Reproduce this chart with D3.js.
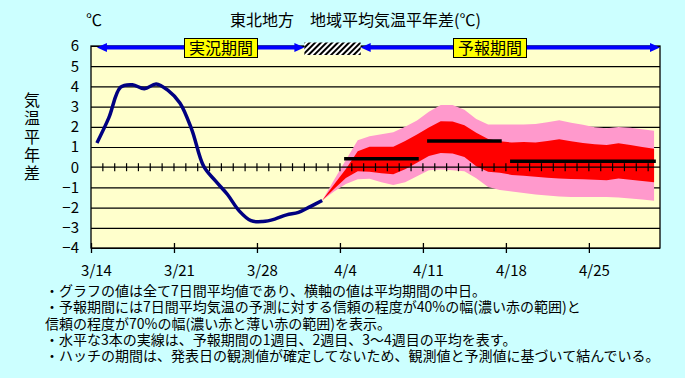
<!DOCTYPE html>
<html>
<head>
<meta charset="utf-8">
<script src="https://cdn.jsdelivr.net/npm/d3@7"></script>
<style>
  body { margin: 0; background: #ccffff; }
  svg text { font-family: "Noto Sans CJK JP", "Noto Sans", sans-serif; fill: #000; }
</style>
</head>
<body>
<svg id="chart"></svg>
<script>
// observed 7-day mean anomalies (one per day, plotted at mid-day)
const obsStart = "2024-03-14"
const obsValues = [1.2, 2.44, 3.96, 4.08, 3.88, 4.12, 3.8, 3.18, 1.86, 0.05,
    -0.68, -1.34, -2.16, -2.65, -2.69, -2.57, -2.36, -2.24, -1.95, -1.65]

// forecast ranges (70% = outer pink, 40% = inner red), one per day from 4/2
const fcStart = "2024-04-02"
const fcUpper70 = [-1.65, -0.63, 0.36, 1.33, 1.53, 1.63, 1.73, 2.0, 2.31, 2.75,
    3.08, 3.08, 2.85, 2.38, 2.12, 2.12, 2.12, 2.12, 2.14, 2.22,
    2.32, 2.2, 2.1, 1.98, 1.93, 1.99, 1.95, 1.88, 1.81]
const fcUpper40 = [-1.65, -0.86, -0.09, 0.79, 1.01, 1.01, 1.01, 1.3, 1.62, 1.97,
    2.27, 2.26, 2.08, 1.7, 1.4, 1.28, 1.22, 1.25, 1.22, 1.3,
    1.38, 1.28, 1.2, 1.14, 1.1, 1.18, 1.1, 1.0, 0.91]
const fcLower40 = [-1.65, -1.08, -0.53, -0.2, -0.22, -0.3, -0.35, -0.1, 0.22, 0.55,
    0.7, 0.68, 0.5, 0.05, -0.22, -0.28, -0.38, -0.42, -0.47, -0.52,
    -0.56, -0.58, -0.6, -0.62, -0.64, -0.56, -0.62, -0.68, -0.75]
const fcLower70 = [-1.65, -1.2, -0.83, -0.6, -0.57, -0.75, -0.88, -0.75, -0.45, -0.15,
    -0.12, -0.15, -0.2, -0.55, -0.98, -1.13, -1.2, -1.28, -1.35, -1.4,
    -1.45, -1.47, -1.47, -1.47, -1.47, -1.5, -1.55, -1.6, -1.66]

// weekly means: week 1, week 2, weeks 3-4
const weekFrom = ["2024-04-04", "2024-04-11", "2024-04-18"]
const weekTo = ["2024-04-10", "2024-04-17", "2024-04-30"]
const weekMean = [0.42, 1.3, 0.3]

const xTickDates = ["2024-03-14", "2024-03-21", "2024-03-28", "2024-04-04", "2024-04-11", "2024-04-18", "2024-04-25"]
const xTickLabels = ["3/14", "3/21", "3/28", "4/4", "4/11", "4/18", "4/25"]
const yTicks = [6, 5, 4, 3, 2, 1, 0, -1, -2, -3, -4]

// top banner: observed period, hatched gap, forecast period
const periodEdges = ["2024-03-14T12:00Z", "2024-04-01T00:00Z", "2024-04-05T18:00Z", "2024-05-01T00:00Z"]
const periodLabels = ["実況期間", "予報期間"]

const titleText = "東北地方　地域平均気温平年差(℃)"
const yTitle = "気温平年差"
const notes = [
    "・グラフの値は全て7日間平均値であり、横軸の値は平均期間の中日。",
    "・予報期間には7日間平均気温の予測に対する信頼の程度が40%の幅(濃い赤の範囲)と",
    "信頼の程度が70%の幅(濃い赤と薄い赤の範囲)を表示。",
    "・水平な3本の実線は、予報期間の1週目、2週目、3～4週目の平均を表す。",
    "・ハッチの期間は、発表日の観測値が確定してないため、観測値と予測値に基づいて結んでいる。"
]

const W = 685, H = 378
const plot = {left: 91, right: 660, top: 46, bottom: 248}

const parse = s => new Date(s.length === 10 ? s + "T00:00Z" : s)
const noon = (start, i) => d3.utcHour.offset(d3.utcDay.offset(parse(start), i), 12)

const svg = d3.select("#chart").attr("width", W).attr("height", H)

const x = d3.scaleUtc()
    .domain([parse("2024-03-14"), parse("2024-05-01")])
    .range([plot.left, plot.right])
const y = d3.scaleLinear()
    .domain([-4, 6])
    .range([plot.bottom, plot.top])

const defs = svg.append("defs")
const hatch = defs.append("pattern")
    .attr("id", "hatch")
    .attr("patternUnits", "userSpaceOnUse")
    .attr("width", 4).attr("height", 4)
    .attr("patternTransform", "rotate(45)")
hatch.append("rect").attr("width", 4).attr("height", 4).attr("fill", "#fff")
hatch.append("rect").attr("width", 2).attr("height", 4).attr("fill", "#000")

// plot background
svg.append("rect")
    .attr("x", plot.left).attr("y", plot.top)
    .attr("width", plot.right - plot.left).attr("height", plot.bottom - plot.top)
    .attr("fill", "#ffffcc")

// gridlines + y labels
const yAxisG = svg.append("g")
    .attr("transform", `translate(${plot.left},0)`)
    .call(d3.axisLeft(y).tickValues(yTicks).tickSize(-(plot.right - plot.left)).tickPadding(12)
        .tickFormat(d => d < 0 ? "\u2212" + Math.abs(d) : d))
yAxisG.select(".domain").remove()
yAxisG.selectAll(".tick line").attr("stroke", "#000").attr("stroke-width", 1.2)
    .filter(d => d === 0).remove()
yAxisG.selectAll(".tick text").attr("font-size", 15).attr("fill", "#000")

// forecast bands
const fcData = fcUpper70.map((d, i) => ({
    date: noon(fcStart, i), u70: d, u40: fcUpper40[i], l40: fcLower40[i], l70: fcLower70[i]
}))
svg.append("path")
    .datum(fcData)
    .attr("fill", "#ff99cc")
    .attr("d", d3.area().x(d => x(d.date)).y0(d => y(d.l70)).y1(d => y(d.u70)))
svg.append("path")
    .datum(fcData)
    .attr("fill", "#ff0000")
    .attr("d", d3.area().x(d => x(d.date)).y0(d => y(d.l40)).y1(d => y(d.u40)))

// zero line with daily ticks
svg.append("line")
    .attr("x1", plot.left).attr("x2", plot.right)
    .attr("y1", y(0)).attr("y2", y(0))
    .attr("stroke", "#000").attr("stroke-width", 1.2)
svg.append("g")
    .selectAll("line")
    .data(d3.utcDay.range(parse("2024-03-15"), parse("2024-05-01")))
    .join("line")
        .attr("x1", d => x(d)).attr("x2", d => x(d))
        .attr("y1", y(0) - 4).attr("y2", y(0) + 4)
        .attr("stroke", "#000").attr("stroke-width", 1.2)

// weekly means
svg.append("g")
    .selectAll("line")
    .data(weekMean)
    .join("line")
        .attr("x1", (d, i) => x(noon(weekFrom[i], 0)))
        .attr("x2", (d, i) => x(noon(weekTo[i], 0)))
        .attr("y1", d => y(d)).attr("y2", d => y(d))
        .attr("stroke", "#000").attr("stroke-width", 3.5)
        .attr("stroke-linecap", "square")

// observed line
const obsData = obsValues.map((v, i) => ({date: noon(obsStart, i), v: v}))
svg.append("path")
    .datum(obsData)
    .attr("fill", "none")
    .attr("stroke", "#000080")
    .attr("stroke-width", 3.5)
    .attr("stroke-linejoin", "round")
    .attr("d", d3.line().x(d => x(d.date)).y(d => y(d.v)).curve(d3.curveCatmullRom.alpha(0.5)))

// frame
svg.append("rect")
    .attr("x", plot.left).attr("y", plot.top)
    .attr("width", plot.right - plot.left).attr("height", plot.bottom - plot.top)
    .attr("fill", "none").attr("stroke", "#000").attr("stroke-width", 1.3)

// x axis with weekly ticks crossing the bottom line
const xAxisG = svg.append("g")
    .attr("transform", `translate(0,${plot.bottom})`)
    .call(d3.axisBottom(x).tickValues(xTickDates.map(parse)).tickSize(5).tickPadding(12)
        .tickFormat((d, i) => xTickLabels[i]))
xAxisG.select(".domain").remove()
xAxisG.selectAll(".tick line").attr("y1", -5).attr("stroke", "#000").attr("stroke-width", 1.3)
xAxisG.selectAll(".tick text").attr("font-size", 15).attr("dx", 5).attr("fill", "#000")

// top banner arrows
const bannerY = 47.5
function arrow(x1, x2) {
    svg.append("line")
        .attr("x1", x1 + 8).attr("x2", x2 - 8)
        .attr("y1", bannerY).attr("y2", bannerY)
        .attr("stroke", "#0000ff").attr("stroke-width", 4)
    svg.append("path").attr("fill", "#0000ff")
        .attr("d", `M${x1},${bannerY}L${x1 + 10},${bannerY - 4.5}L${x1 + 10},${bannerY + 4.5}Z`)
    svg.append("path").attr("fill", "#0000ff")
        .attr("d", `M${x2},${bannerY}L${x2 - 10},${bannerY + 4.5}L${x2 - 10},${bannerY - 4.5}Z`)
}
const edges = periodEdges.map(s => x(new Date(s)))
arrow(edges[0], edges[1])
arrow(edges[2], edges[3])
svg.append("rect")
    .attr("x", edges[1]).attr("y", 42.5)
    .attr("width", edges[2] - edges[1]).attr("height", 12.5)
    .attr("fill", "url(#hatch)")

const labelCenters = [221, 490]
periodLabels.forEach((t, i) => {
    svg.append("rect")
        .attr("x", labelCenters[i] - 36.5).attr("y", 38.5)
        .attr("width", 73).attr("height", 19)
        .attr("fill", "#ffff00").attr("stroke", "#000").attr("stroke-width", 1)
    svg.append("text")
        .attr("x", labelCenters[i]).attr("y", 54)
        .attr("text-anchor", "middle").attr("font-size", 16)
        .text(t)
})

// titles
svg.append("text").attr("x", 355.5).attr("y", 26).attr("text-anchor", "middle")
    .attr("font-size", 16).text(titleText)
svg.append("text").attr("x", 86).attr("y", 26).attr("font-size", 16).text("℃")
svg.append("text")
    .attr("x", 32).attr("y", 92)
    .attr("writing-mode", "vertical-rl")
    .attr("font-size", 16)
    .attr("letter-spacing", 2.3)
    .text(yTitle)

// notes: one text block, one tspan per line
svg.append("text")
    .attr("font-size", 14)
    .attr("y", 296)
    .selectAll("tspan")
    .data(notes)
    .join("tspan")
        .attr("x", 45)
        .attr("dy", (d, i) => i === 0 ? 0 : 16.3)
        .text(d => d)
</script>
</body>
</html>
